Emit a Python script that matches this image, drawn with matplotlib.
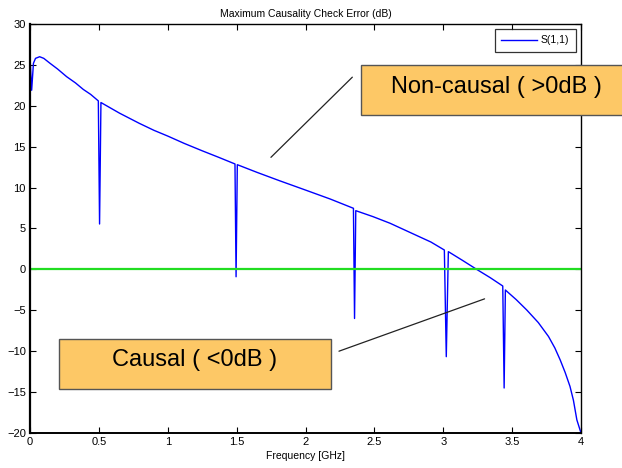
import matplotlib
matplotlib.use("Agg")
import matplotlib.pyplot as plt
from matplotlib.patches import Rectangle

plt.rcParams['font.family'] = ['Liberation Sans', 'DejaVu Sans']

# values (frequency in GHz, error in dB)
freq_ghz = [0.0, 0.012, 0.025, 0.04, 0.07, 0.1, 0.145, 0.2, 0.266, 0.33, 0.387, 0.44,
            0.496, 0.505, 0.515, 0.65, 0.793, 0.9, 1.0, 1.12, 1.25, 1.37,
            1.488, 1.496, 1.505, 1.65, 1.81, 2.0, 2.18, 2.348, 2.356, 2.365,
            2.49, 2.614, 2.8, 2.91, 3.008, 3.022, 3.037, 3.14, 3.243, 3.34, 3.432,
            3.442, 3.451, 3.53, 3.606, 3.69, 3.764, 3.81, 3.849, 3.885, 3.92,
            3.945, 3.97, 3.985, 4.0]
error_db = [26.0, 21.9, 25.2, 25.8, 26.0, 25.8, 25.2, 24.5, 23.56, 22.8, 22.0, 21.4,
            20.6, 5.55, 20.4, 19.1, 17.86, 17.0, 16.3, 15.4, 14.5, 13.7,
            12.89, -0.9, 12.8, 11.85, 10.85, 9.7, 8.6, 7.47, -6.0, 7.18,
            6.45, 5.64, 4.2, 3.35, 2.37, -10.67, 2.17, 1.1, 0.0, -1.0, -2.03,
            -14.5, -2.52, -3.7, -4.96, -6.5, -8.2, -9.6, -11.07, -12.6, -14.3,
            -16.0, -18.4, -19.2, -20.0]
threshold_db = 0.0

x_ticks = [0, 0.5, 1, 1.5, 2, 2.5, 3, 3.5, 4]
y_ticks = [-20, -15, -10, -5, 0, 5, 10, 15, 20, 25, 30]

W, H = 622, 468
fig = plt.figure(figsize=(W / 100, H / 100), dpi=100)
ax = fig.add_axes([30 / W, 1 - 433 / H, 551 / W, 409 / H])

ax.plot(freq_ghz, error_db, color='#0000ff', lw=1.0, label='S(1,1)')
ax.axhline(threshold_db, color='#22dd22', lw=1.6)

ax.set_xlim(0, 4)
ax.set_ylim(-20, 30)
ax.set_xticks(x_ticks)
ax.set_xticklabels(['0', '0.5', '1', '1.5', '2', '2.5', '3', '3.5', '4'])
ax.set_yticks(y_ticks)
ax.tick_params(direction='in', length=4, width=0.8, labelsize=8,
               top=True, right=True, pad=3)
for s in ax.spines.values():
    s.set_linewidth(1.0)
ax.spines['left'].set_linewidth(1.6)
ax.spines['bottom'].set_linewidth(1.4)

ax.set_title('Maximum Causality Check Error (dB)', fontsize=7.5, pad=5)
ax.set_xlabel('Frequency [GHz]', fontsize=7.5, labelpad=3)

leg = ax.legend(loc='upper right', fontsize=7.5, frameon=True, fancybox=False,
                handlelength=3.4, handletextpad=0.4, borderpad=0.6,
                borderaxespad=0.5)
leg.get_frame().set_edgecolor('black')
leg.get_frame().set_linewidth(0.9)

# annotation lines
ax.annotate('', xy=(2.34, 23.5), xytext=(1.749, 13.7),
            arrowprops=dict(arrowstyle='-', color='#222222', lw=0.9,
                            shrinkA=0, shrinkB=0), annotation_clip=False)
ax.annotate('', xy=(3.30, -3.6), xytext=(2.243, -10.0),
            arrowprops=dict(arrowstyle='-', color='#222222', lw=0.9,
                            shrinkA=0, shrinkB=0), annotation_clip=False)

# callout boxes (figure pixel layout)
def callout_box(x0, y0, x1, y1):
    fig.add_artist(Rectangle((x0 / W, 1 - y1 / H), (x1 - x0) / W, (y1 - y0) / H,
                             transform=fig.transFigure, facecolor='#fdc866',
                             edgecolor='#555555', lw=1.0, zorder=5))

callout_box(361, 65, 640, 115)
fig.text(496 / W, 1 - 87 / H, 'Non-causal ( >0dB )', ha='center', va='center',
         fontsize=17, zorder=6)
callout_box(59, 339, 331, 389)
fig.text(195 / W, 1 - 360 / H, 'Causal ( <0dB )', ha='center', va='center',
         fontsize=17, zorder=6)

fig.savefig('out.png', dpi=100)
